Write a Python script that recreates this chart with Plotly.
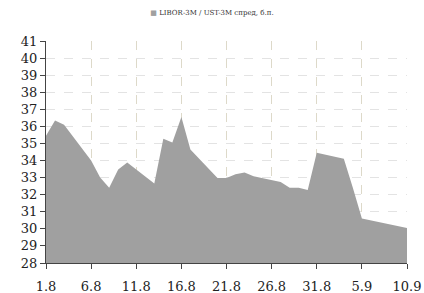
import plotly.graph_objects as go

dates = ["2012-08-01", "2012-08-02", "2012-08-03", "2012-08-06", "2012-08-07", "2012-08-08",
         "2012-08-09", "2012-08-10", "2012-08-13", "2012-08-14", "2012-08-15", "2012-08-16",
         "2012-08-17", "2012-08-20", "2012-08-21", "2012-08-22", "2012-08-23", "2012-08-24",
         "2012-08-27", "2012-08-28", "2012-08-29", "2012-08-30", "2012-08-31", "2012-09-03",
         "2012-09-04", "2012-09-05", "2012-09-10"]
spread = [35.45, 36.35, 36.1, 34.0, 33.0, 32.4,
          33.47, 33.88, 32.65, 35.28, 35.05, 36.55,
          34.64, 32.98, 32.98, 33.2, 33.3, 33.08,
          32.75, 32.4, 32.4, 32.28, 34.46, 34.11,
          32.4, 30.6, 30.05]

tick_vals = ["2012-08-01", "2012-08-06", "2012-08-11", "2012-08-16", "2012-08-21",
             "2012-08-26", "2012-08-31", "2012-09-05", "2012-09-10"]
tick_text = ["1.8", "6.8", "11.8", "16.8", "21.8", "26.8", "31.8", "5.9", "10.9"]
y_ticks = list(range(28, 42))

font_family = "Georgia, 'DejaVu Serif', serif"

fig = go.Figure()
fig.add_trace(go.Scatter(
    x=dates, y=spread, mode="lines", fill="tozeroy",
    line=dict(width=0, color="#a0a0a0"), fillcolor="#a0a0a0",
    name="LIBOR-3M / UST-3M спред, б.п.", showlegend=False, hoverinfo="skip",
))

fig.update_layout(
    width=424, height=293,
    margin=dict(l=46, r=17, t=41, b=30),
    paper_bgcolor="white", plot_bgcolor="white",
    font=dict(family=font_family, color="#222222"),
    title=dict(
        text="<span style='color:#a0a0a0'>■</span> LIBOR-3M / UST-3M спред, б.п.",
        x=0.5, xanchor="center", y=0.957, yanchor="middle",
        font=dict(size=7, family=font_family, color="#333333"),
    ),
    xaxis=dict(
        range=["2012-08-01", "2012-09-10"], automargin=False,
        tickmode="array", tickvals=tick_vals, ticktext=tick_text,
        showgrid=True, gridcolor="#ddd9c9", griddash="dash", gridwidth=1,
        showline=True, linecolor="#444444", linewidth=1,
        ticks="outside", ticklen=5, tickcolor="#444444",
        ticklabelstandoff=6,
        tickfont=dict(size=13, family=font_family, color="#222222"),
        zeroline=False,
    ),
    yaxis=dict(
        range=[28, 41], tickmode="array", tickvals=y_ticks, automargin=False,
        showgrid=True, gridcolor="#e3e3e3", griddash="dash", gridwidth=1,
        showline=True, linecolor="#444444", linewidth=1,
        ticks="outside", ticklen=5, tickcolor="#444444",
        tickfont=dict(size=13, family=font_family, color="#222222"),
        zeroline=False,
    ),
)

fig.write_html(
    "out.html",
    config={"displayModeBar": False, "staticPlot": True},
    post_script="document.body.style.margin='0';document.body.style.overflow='hidden';",
)
